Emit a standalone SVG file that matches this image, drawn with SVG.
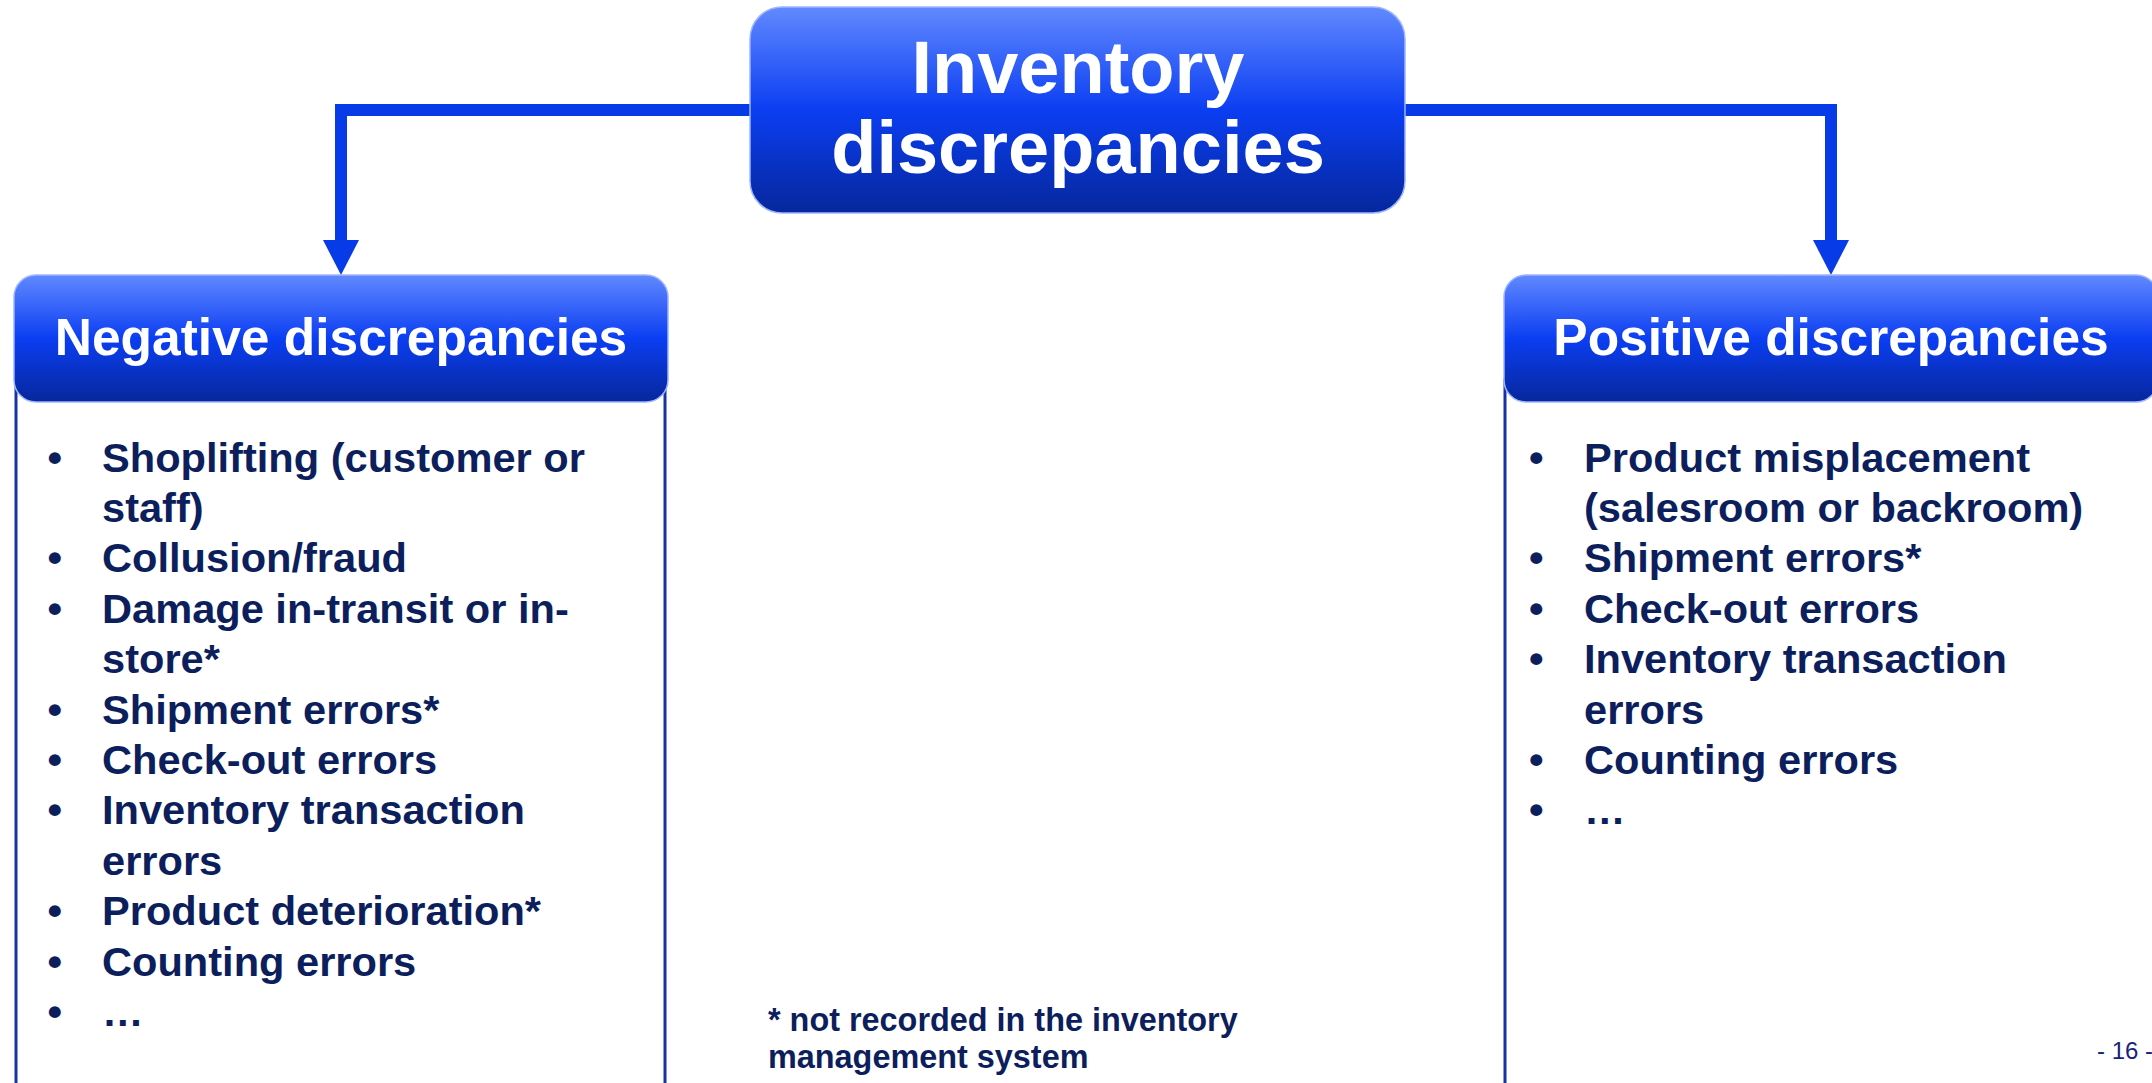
<svg xmlns="http://www.w3.org/2000/svg" width="2152" height="1083" viewBox="0 0 2152 1083">
  <style>
    .box { stroke: #9db4ff; stroke-width: 1.5; }
    .panel { fill: #ffffff; stroke: #1434a4; stroke-width: 3; }
    .title { font-family: "Liberation Sans", Arial, sans-serif; font-weight: bold; fill: #ffffff; text-anchor: middle; }
    .item { font-family: "Liberation Sans", Arial, sans-serif; font-weight: bold; font-size: 40px; fill: #0c1f5c; }
    .note { font-family: "Liberation Sans", Arial, sans-serif; font-weight: bold; font-size: 32.4px; fill: #0c1f5c; }
    .page { font-family: "Liberation Sans", Arial, sans-serif; font-size: 24px; fill: #1b1f7a; }
    .link { fill: none; stroke: #073be8; stroke-width: 12; stroke-linejoin: miter; }
  </style>
  <defs>
    <linearGradient id="blueFill" x1="0" y1="0" x2="0" y2="1">
      <stop offset="0" stop-color="#6189ff"/>
      <stop offset="0.5" stop-color="#0b3ef2"/>
      <stop offset="1" stop-color="#06279c"/>
    </linearGradient>
    <marker id="head" viewBox="0 -18 35 36" markerWidth="35" markerHeight="36" refX="0" refY="0" orient="auto" markerUnits="userSpaceOnUse">
      <path d="M0,-18 L35,0 L0,18 Z" fill="#073be8"/>
    </marker>
  </defs>

  <rect width="2152" height="1083" fill="#ffffff"/>

  <!-- connectors from the root box down to both branch headers -->
  <g id="connectors">
    <path class="link" d="M752,110 H341 V240" marker-end="url(#head)"/>
    <path class="link" d="M1404,110 H1831 V240" marker-end="url(#head)"/>
  </g>

  <!-- root node -->
  <g id="root">
    <rect class="box" x="750" y="7" width="655" height="206" rx="32" fill="url(#blueFill)"/>
    <text class="title" x="1078" y="93" font-size="74">Inventory</text>
    <text class="title" x="1078" y="173" font-size="74">discrepancies</text>
  </g>

  <!-- negative branch -->
  <g id="negative">
    <rect class="panel" x="16" y="380" width="649" height="730"/>
    <rect class="box" x="14" y="275" width="654" height="127" rx="22" fill="url(#blueFill)"/>
    <text class="title" x="341" y="355" font-size="51.5">Negative discrepancies</text>
    <g transform="translate(102 0) scale(1.04 1)">
      <text class="item" x="-52.4" y="471.7">•</text>
      <text class="item" x="0" y="471.7">Shoplifting (customer or</text>
      <text class="item" x="0" y="522.1">staff)</text>
      <text class="item" x="-52.4" y="572.5">•</text>
      <text class="item" x="0" y="572.5">Collusion/fraud</text>
      <text class="item" x="-52.4" y="622.9">•</text>
      <text class="item" x="0" y="622.9">Damage in-transit or in-</text>
      <text class="item" x="0" y="673.3">store*</text>
      <text class="item" x="-52.4" y="723.7">•</text>
      <text class="item" x="0" y="723.7">Shipment errors*</text>
      <text class="item" x="-52.4" y="774.1">•</text>
      <text class="item" x="0" y="774.1">Check-out errors</text>
      <text class="item" x="-52.4" y="824.5">•</text>
      <text class="item" x="0" y="824.5">Inventory transaction</text>
      <text class="item" x="0" y="874.9">errors</text>
      <text class="item" x="-52.4" y="925.3">•</text>
      <text class="item" x="0" y="925.3">Product deterioration*</text>
      <text class="item" x="-52.4" y="975.7">•</text>
      <text class="item" x="0" y="975.7">Counting errors</text>
      <text class="item" x="-52.4" y="1026.1">•</text>
      <text class="item" x="0" y="1026.1">…</text>
    </g>
  </g>

  <!-- positive branch -->
  <g id="positive">
    <rect class="panel" x="1505" y="380" width="652" height="730"/>
    <rect class="box" x="1504" y="275" width="654" height="127" rx="22" fill="url(#blueFill)"/>
    <text class="title" x="1831" y="355" font-size="51.5">Positive discrepancies</text>
    <g transform="translate(1584 0) scale(1.04 1)">
      <text class="item" x="-53" y="471.7">•</text>
      <text class="item" x="0" y="471.7">Product misplacement</text>
      <text class="item" x="0" y="522.1">(salesroom or backroom)</text>
      <text class="item" x="-53" y="572.5">•</text>
      <text class="item" x="0" y="572.5">Shipment errors*</text>
      <text class="item" x="-53" y="622.9">•</text>
      <text class="item" x="0" y="622.9">Check-out errors</text>
      <text class="item" x="-53" y="673.3">•</text>
      <text class="item" x="0" y="673.3">Inventory transaction</text>
      <text class="item" x="0" y="723.7">errors</text>
      <text class="item" x="-53" y="774.1">•</text>
      <text class="item" x="0" y="774.1">Counting errors</text>
      <text class="item" x="-53" y="824.5">•</text>
      <text class="item" x="0" y="824.5">…</text>
    </g>
  </g>

  <!-- footnote and page number -->
  <g id="footnote">
    <text class="note" x="768" y="1031">* not recorded in the inventory</text>
    <text class="note" x="768" y="1068">management system</text>
  </g>
  <text class="page" x="2097" y="1059">- 16 -</text>
</svg>
